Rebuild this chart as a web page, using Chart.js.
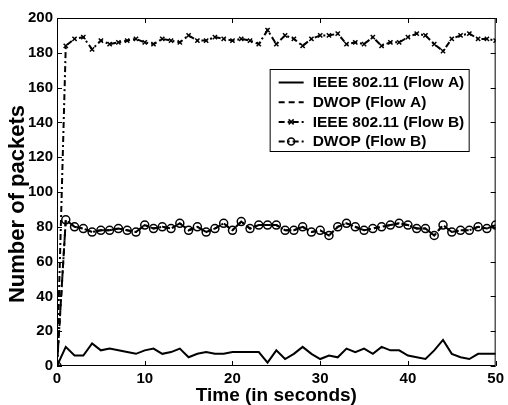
<!DOCTYPE html>
<html>
<head>
<meta charset="utf-8">
<script src="https://cdn.jsdelivr.net/npm/chart.js@4/dist/chart.umd.min.js"></script>
<style>
  html, body { margin: 0; padding: 0; background: #fff; }
  canvas { display: block; }
</style>
</head>
<body>
<canvas id="chart" width="508" height="405"></canvas>
<script>
// ── Data ──
const times = [0, 1, 2, 3, 4, 5, 6, 7, 8, 9, 10, 11, 12, 13, 14, 15, 16, 17, 18, 19, 20,
    21, 22, 23, 24, 25, 26, 27, 28, 29, 30, 31, 32, 33, 34, 35, 36, 37, 38, 39, 40,
    41, 42, 43, 44, 45, 46, 47, 48, 49, 50];

const ieeeFlowA = [0, 11, 6, 6, 13, 9, 10, 9, 8, 7, 9, 10, 7, 8, 10, 5, 7, 8, 7, 7, 8,
    8, 8, 8, 2, 9, 4, 7, 11, 7, 4, 6, 5, 10, 8, 10, 7, 11, 9, 9, 6,
    5, 4, 9, 15, 7, 5, 4, 7, 7, 7];

const dwopFlowA = [0, 84, 80, 79, 77, 78, 78, 79, 78, 77, 81, 79, 80, 79, 82, 78, 80, 77, 79, 82, 78,
    83, 79, 81, 81, 81, 78, 78, 80, 77, 78, 75, 80, 82, 80, 78, 79, 80, 81, 82, 81,
    79, 79, 75, 81, 77, 78, 78, 80, 79, 81];

const ieeeFlowB = [0, 184, 188, 189, 182, 187, 185, 186, 187, 188, 186, 185, 188, 187, 186, 190, 187, 187, 189, 188, 187,
    188, 187, 185, 193, 185, 190, 188, 184, 188, 190, 190, 191, 185, 186, 185, 189, 184, 186, 186, 189,
    191, 190, 185, 181, 188, 190, 191, 188, 188, 187];

const dwopFlowB = [0, 84, 80, 79, 77, 78, 78, 79, 78, 77, 81, 79, 80, 79, 82, 78, 80, 77, 79, 82, 78,
    83, 79, 81, 81, 81, 78, 78, 80, 77, 78, 75, 80, 82, 80, 78, 79, 80, 81, 82, 81,
    79, 79, 75, 81, 77, 78, 78, 80, 79, 81];

const seriesLabels = ['IEEE 802.11 (Flow A)', 'DWOP (Flow A)', 'IEEE 802.11 (Flow B)', 'DWOP (Flow B)'];
const xTicks = [0, 10, 20, 30, 40, 50];
const yTicks = [0, 20, 40, 60, 80, 100, 120, 140, 160, 180, 200];
const yTitle = 'Number of packets';

const FONT = "'Liberation Sans', Arial, Helvetica, sans-serif";
const pts = arr => arr.map((v, i) => ({ x: times[i], y: v }));

// ── Box + inward ticks on all four sides (Matlab style) ──
const frame = {
    id: 'frame',
    afterDatasetsDraw(chart) {
        const { ctx, chartArea: a, scales: { x, y } } = chart;
        const tl = 5;
        ctx.save();
        ctx.strokeStyle = '#000';
        ctx.lineWidth = 1;
        ctx.strokeRect(a.left + 0.5, a.top + 0.5, a.right - a.left - 1, a.bottom - a.top - 1);
        ctx.beginPath();
        xTicks.forEach(v => {
            const px = Math.round(x.getPixelForValue(v)) + 0.5;
            ctx.moveTo(px, a.bottom); ctx.lineTo(px, a.bottom - tl);
            ctx.moveTo(px, a.top); ctx.lineTo(px, a.top + tl);
        });
        yTicks.forEach(v => {
            const py = Math.round(y.getPixelForValue(v)) + 0.5;
            ctx.moveTo(a.left, py); ctx.lineTo(a.left + tl, py);
            ctx.moveTo(a.right, py); ctx.lineTo(a.right - tl, py);
        });
        ctx.stroke();

        // y-axis title, sitting a bit below the axis middle as in the figure
        ctx.translate(18, (a.top + a.bottom) / 2 + 12);
        ctx.rotate(-Math.PI / 2);
        ctx.fillStyle = '#000';
        ctx.font = 'bold 22px ' + FONT;
        ctx.textAlign = 'center';
        ctx.textBaseline = 'middle';
        ctx.fillText(yTitle, 0, 0);
        ctx.restore();
    },
};

// ── Boxed legend inside the plot (upper right) ──
const boxLegend = {
    id: 'boxLegend',
    afterDraw(chart) {
        const { ctx, chartArea: a } = chart;
        const left = a.right - 226, top = a.top + 51, w = 199, h = 82;
        ctx.save();
        ctx.fillStyle = '#fff';
        ctx.fillRect(left, top, w, h);
        ctx.strokeStyle = '#000';
        ctx.lineWidth = 1;
        ctx.strokeRect(left + 0.5, top + 0.5, w, h);

        chart.data.datasets.forEach((ds, i) => {
            const cy = top + 13.5 + i * 19.7;
            const x0 = left + 9, x1 = left + 34;
            ctx.strokeStyle = '#000';
            ctx.lineWidth = ds.borderWidth;
            ctx.setLineDash(ds.borderDash || []);
            ctx.beginPath();
            ctx.moveTo(x0, cy); ctx.lineTo(x1, cy);
            ctx.stroke();
            ctx.setLineDash([]);
            const mx = (x0 + x1) / 2;
            if (ds.pointStyle === 'crossRot') {
                ctx.lineWidth = 1.5;
                const r = 2.5;
                ctx.beginPath();
                ctx.moveTo(mx - r, cy - r); ctx.lineTo(mx + r, cy + r);
                ctx.moveTo(mx - r, cy + r); ctx.lineTo(mx + r, cy - r);
                ctx.stroke();
            } else if (ds.pointStyle === 'circle' && ds.pointRadius > 0) {
                ctx.lineWidth = 1.5;
                ctx.beginPath();
                ctx.arc(mx, cy, 3.5, 0, Math.PI * 2);
                ctx.stroke();
            }
            ctx.fillStyle = '#000';
            ctx.font = 'bold 15.5px ' + FONT;
            ctx.textBaseline = 'middle';
            ctx.textAlign = 'left';
            ctx.fillText(ds.label, left + 43, cy + 0.5);
        });
        ctx.restore();
    },
};

new Chart(document.getElementById('chart'), {
    type: 'line',
    data: {
        datasets: [
            {
                label: seriesLabels[0],
                data: pts(ieeeFlowA),
                borderColor: '#000',
                borderWidth: 2,
                pointRadius: 0,
                tension: 0,
            },
            {
                label: seriesLabels[1],
                data: pts(dwopFlowA),
                borderColor: '#000',
                borderWidth: 2,
                borderDash: [6, 4],
                pointRadius: 0,
                tension: 0,
            },
            {
                label: seriesLabels[2],
                data: pts(ieeeFlowB),
                borderColor: '#000',
                borderWidth: 2,
                borderDash: [6, 3, 2, 3],
                pointStyle: 'crossRot',
                pointRadius: 3,
                pointBorderWidth: 1.5,
                pointBorderColor: '#000',
                pointBackgroundColor: '#000',
                tension: 0,
            },
            {
                label: seriesLabels[3],
                data: pts(dwopFlowB),
                borderColor: '#000',
                borderWidth: 2,
                borderDash: [6, 3, 2, 3],
                pointStyle: 'circle',
                pointRadius: 4,
                pointBorderWidth: 1.5,
                pointBorderColor: '#000',
                pointBackgroundColor: 'rgba(0,0,0,0)',
                tension: 0,
            },
        ],
    },
    options: {
        responsive: false,
        animation: false,
        layout: { padding: { top: 18, right: 10, left: 0, bottom: 0 } },
        plugins: {
            legend: { display: false },
            tooltip: { enabled: false },
        },
        scales: {
            x: {
                type: 'linear',
                min: 0,
                max: 50,
                afterFit: s => { s.height = 39; },
                afterBuildTicks: s => { s.ticks = xTicks.map(v => ({ value: v })); },
                grid: { display: false, drawTicks: false },
                border: { display: false },
                ticks: {
                    color: '#000',
                    padding: 4,
                    maxRotation: 0,
                    font: { family: FONT, size: 15, weight: 'bold' },
                },
                title: {
                    display: true,
                    text: 'Time (in seconds)',
                    color: '#000',
                    padding: { top: 0, bottom: 0 },
                    font: { family: FONT, size: 19, weight: 'bold', lineHeight: 1 },
                },
            },
            y: {
                min: 0,
                max: 200,
                afterFit: s => { s.width = 57; },
                afterBuildTicks: s => { s.ticks = yTicks.map(v => ({ value: v })); },
                grid: { display: false, drawTicks: false },
                border: { display: false },
                ticks: {
                    color: '#000',
                    padding: 4,
                    font: { family: FONT, size: 15, weight: 'bold' },
                },
                title: { display: false },
            },
        },
    },
    plugins: [frame, boxLegend],
});
</script>
</body>
</html>
